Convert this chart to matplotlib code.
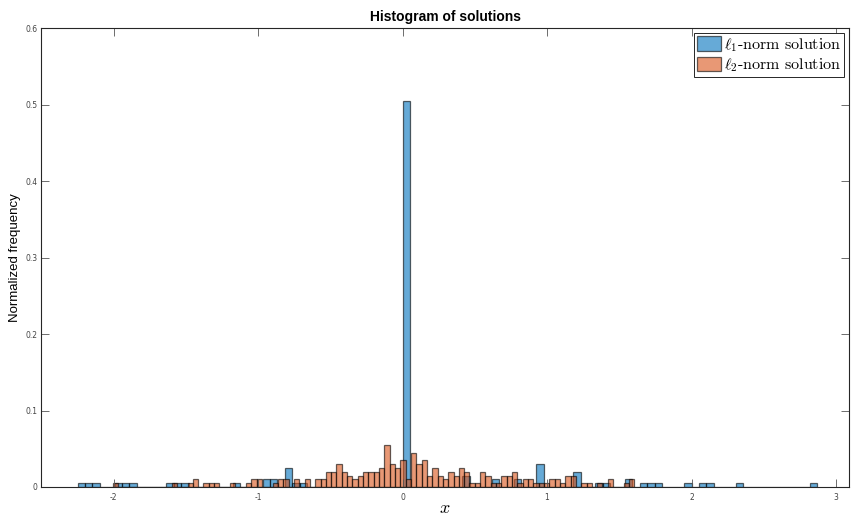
import numpy as np
import matplotlib
matplotlib.use('Agg')
import matplotlib.pyplot as plt

#--bin layout
l1_first_edge = -2.249
l1_width      = 0.0512
l2_first_edge = -2.0035
l2_width      = 0.03682
nsamples      = 200

#--counts per bin (normalized frequency = count/nsamples)
l1_counts = [1,1,1,0,0,1,1,1,0,0,0,0,1,1,1,0,0,0,0,0,
             0,1,0,0,0,2,2,0,5,1,1,0,0,0,0,0,0,0,0,0,
             0,0,0,0,101,0,0,0,0,0,0,0,3,0,0,0,2,0,0,2,
             0,0,6,0,0,0,0,4,0,0,1,1,0,0,2,0,1,1,1,0,
             0,0,1,0,1,1,0,0,0,1,0,0,0,0,0,0,0,0,0,1]
l2_counts = [1,0,0,0,0,0,0,0,0,0,0,1,0,0,1,2,0,1,1,1,
             0,0,1,0,0,1,2,2,0,0,1,2,2,0,2,0,2,0,2,2,
             4,4,6,4,3,2,3,4,4,4,5,11,6,5,7,2,9,6,7,3,
             5,3,2,4,3,5,4,1,1,4,3,1,1,3,3,4,1,2,2,1,
             1,1,2,2,1,3,3,0,1,1,0,1,0,2,0,0,1,2]

xticks = [-2,-1,0,1,2,3]
yticks = [0,0.1,0.2,0.3,0.4,0.5,0.6]

blue   = (0.0,0.447,0.741)
orange = (0.85,0.325,0.098)

plt.rcParams['mathtext.fontset'] = 'cm'
plt.rcParams['axes.unicode_minus'] = False

fig = plt.figure(figsize=(8.51,5.17),dpi=100)
ax  = fig.add_axes([41.3/851,1-487/517,(849-41.3)/851,(487-28.3)/517])

l1_edges = l1_first_edge + l1_width*np.arange(len(l1_counts))
l2_edges = l2_first_edge + l2_width*np.arange(len(l2_counts))
l1_freq  = np.array(l1_counts)/nsamples
l2_freq  = np.array(l2_counts)/nsamples

ax.bar(l1_edges,l1_freq,width=l1_width,align='edge',color=blue,alpha=0.6,
       edgecolor='black',linewidth=0.9,label=r'$\ell_1$-norm solution')
ax.bar(l2_edges,l2_freq,width=l2_width,align='edge',color=orange,alpha=0.6,
       edgecolor='black',linewidth=0.9,label=r'$\ell_2$-norm solution')

ax.set_xlim(-2.5,3.09)
ax.set_ylim(0,0.6)
ax.set_xticks(xticks)
ax.set_xticklabels(['%g'%t for t in xticks])
ax.set_yticks(yticks)
ax.set_yticklabels(['%g'%t for t in yticks])
ax.tick_params(axis='both',which='both',direction='in',top=True,right=True,
               length=6,width=0.6,color='#555555',labelsize=5.5,labelcolor='#444444',pad=3)
ax.tick_params(axis='x',pad=4.5)
for s in ax.spines.values():
    s.set_linewidth(0.8)
    s.set_color('#262626')

ax.set_title('Histogram of solutions',fontsize=10,fontweight='bold',
             family='Liberation Sans',pad=5.5)
ax.set_ylabel('Normalized frequency',fontsize=9.5,family='Liberation Sans',labelpad=3)
ax.set_xlabel(r'$x$',fontsize=13,labelpad=-2)

leg = ax.legend(loc='upper right',prop={'family':'cmr10','size':11.5},
                fancybox=False,framealpha=1,edgecolor='#262626',
                handlelength=1.5,handleheight=1.05,handletextpad=0.2,
                borderpad=0.2,labelspacing=0.15,borderaxespad=0.3)
leg.get_frame().set_linewidth(0.7)

fig.savefig('out.png',dpi=100)
